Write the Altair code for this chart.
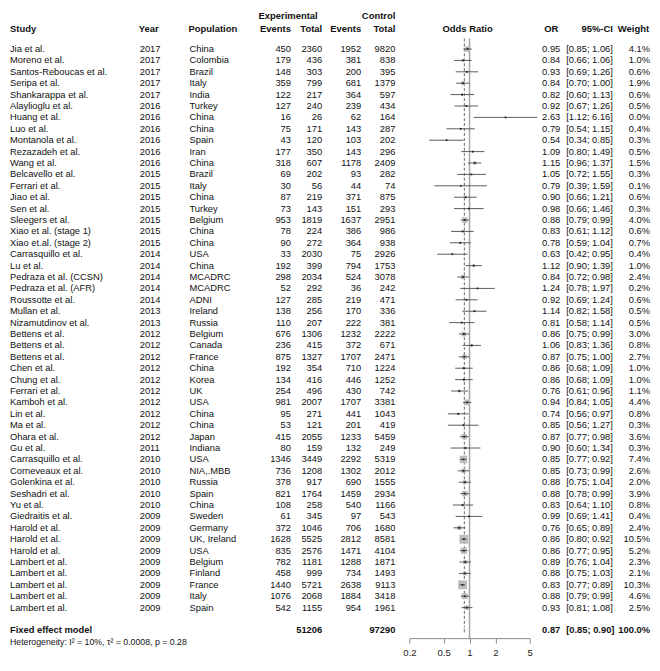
import altair as alt
import pandas as pd

# ---------------- data ----------------
studies = ["Jia et al.", "Moreno et al.", "Santos-Reboucas et al.", "Seripa et al.", "Shankarappa et al.",
           "Alaylioglu et al.", "Huang et al.", "Luo et al.", "Montanola et al.", "Rezazadeh et al.",
           "Wang et al.", "Belcavello et al.", "Ferrari et al.", "Jiao et al.", "Sen et al.",
           "Sleegers et al.", "Xiao et al. (stage 1)", "Xiao et.al. (stage 2)", "Carrasquillo et al.", "Lu et al.",
           "Pedraza et al. (CCSN)", "Pedraza et al. (AFR)", "Roussotte et al.", "Mullan et al.", "Nizamutdinov et al.",
           "Bettens et al.", "Bettens et al.", "Bettens et al.", "Chen et al.", "Chung et al.",
           "Ferrari et al.", "Kamboh et al.", "Lin et al.", "Ma et al.", "Ohara et al.",
           "Gu et al.", "Carrasquillo et al.", "Corneveaux et al.", "Golenkina et al.", "Seshadri et al.",
           "Yu et al.", "Giedraitis et al.", "Harold et al.", "Harold et al.", "Harold et al.",
           "Lambert et al.", "Lambert et al.", "Lambert et al.", "Lambert et al.", "Lambert et al."]
years = [2017, 2017, 2017, 2017, 2017, 2016, 2016, 2016, 2016, 2016,
         2016, 2015, 2015, 2015, 2015, 2015, 2015, 2015, 2014, 2014,
         2014, 2014, 2014, 2013, 2013, 2012, 2012, 2012, 2012, 2012,
         2012, 2012, 2012, 2012, 2012, 2011, 2010, 2010, 2010, 2010,
         2010, 2009, 2009, 2009, 2009, 2009, 2009, 2009, 2009, 2009]
populations = ["China", "Colombia", "Brazil", "Italy", "India", "Turkey", "China", "China", "Spain", "Iran",
               "China", "Brazil", "Italy", "China", "Turkey", "Belgium", "China", "China", "USA", "China",
               "MCADRC", "MCADRC", "ADNI", "Ireland", "Russia", "Belgium", "Canada", "France", "China", "Korea",
               "UK", "USA", "China", "China", "Japan", "Indiana", "USA", "NIA,.MBB", "Russia", "Spain",
               "China", "Sweden", "Germany", "UK, Ireland", "USA", "Belgium", "Finland", "France", "Italy", "Spain"]
exp_events = [450, 179, 148, 359, 122, 127, 16, 75, 43, 177,
              318, 69, 30, 87, 73, 953, 78, 90, 33, 192,
              298, 52, 127, 138, 110, 676, 236, 875, 192, 134,
              254, 981, 95, 53, 415, 80, 1346, 736, 378, 821,
              108, 61, 372, 1628, 835, 782, 458, 1440, 1076, 542]
exp_total = [2360, 436, 303, 799, 217, 240, 26, 171, 120, 350,
             607, 202, 56, 219, 143, 1819, 224, 272, 2030, 399,
             2034, 292, 285, 256, 207, 1306, 415, 1327, 354, 416,
             496, 2007, 271, 121, 2055, 159, 3449, 1208, 917, 1764,
             258, 345, 1046, 5525, 2576, 1181, 999, 5721, 2068, 1155]
ctrl_events = [1952, 381, 200, 681, 364, 239, 62, 143, 103, 143,
               1178, 93, 44, 371, 151, 1637, 386, 364, 75, 794,
               524, 36, 219, 170, 222, 1232, 372, 1707, 710, 446,
               430, 1707, 441, 201, 1233, 132, 2292, 1302, 690, 1459,
               540, 97, 706, 2812, 1471, 1288, 734, 2638, 1884, 954]
ctrl_total = [9820, 838, 395, 1379, 597, 434, 164, 287, 202, 296,
              2409, 282, 74, 875, 293, 2951, 986, 938, 2926, 1753,
              3078, 242, 471, 336, 381, 2222, 671, 2471, 1224, 1252,
              742, 3381, 1043, 419, 5459, 249, 5319, 2012, 1555, 2934,
              1166, 543, 1680, 8581, 4104, 1871, 1493, 9113, 3418, 1961]
or_est = [0.95, 0.84, 0.93, 0.84, 0.82, 0.92, 2.63, 0.79, 0.54, 1.09,
          1.15, 1.05, 0.79, 0.90, 0.98, 0.88, 0.83, 0.78, 0.63, 1.12,
          0.84, 1.24, 0.92, 1.14, 0.81, 0.86, 1.06, 0.87, 0.86, 0.86,
          0.76, 0.94, 0.74, 0.85, 0.87, 0.90, 0.85, 0.85, 0.88, 0.88,
          0.83, 0.99, 0.76, 0.86, 0.86, 0.89, 0.88, 0.83, 0.88, 0.93]
ci_low = [0.85, 0.66, 0.69, 0.70, 0.60, 0.67, 1.12, 0.54, 0.34, 0.80,
          0.96, 0.72, 0.39, 0.66, 0.66, 0.79, 0.61, 0.59, 0.42, 0.90,
          0.72, 0.78, 0.69, 0.82, 0.58, 0.75, 0.83, 0.75, 0.68, 0.68,
          0.61, 0.84, 0.56, 0.56, 0.77, 0.60, 0.77, 0.73, 0.75, 0.78,
          0.64, 0.69, 0.65, 0.80, 0.77, 0.76, 0.75, 0.77, 0.79, 0.81]
ci_high = [1.06, 1.06, 1.26, 1.00, 1.13, 1.26, 6.16, 1.15, 0.85, 1.49,
           1.37, 1.55, 1.59, 1.21, 1.46, 0.99, 1.12, 1.04, 0.95, 1.39,
           0.98, 1.97, 1.24, 1.58, 1.14, 0.99, 1.36, 1.00, 1.09, 1.09,
           0.96, 1.05, 0.97, 1.27, 0.98, 1.34, 0.92, 0.99, 1.04, 0.99,
           1.10, 1.41, 0.89, 0.92, 0.95, 1.04, 1.03, 0.89, 0.99, 1.08]
weights = [4.1, 1.0, 0.6, 1.9, 0.6, 0.5, 0.0, 0.4, 0.3, 0.5,
           1.5, 0.3, 0.1, 0.6, 0.3, 4.0, 0.6, 0.7, 0.4, 1.0,
           2.4, 0.2, 0.6, 0.5, 0.5, 3.0, 0.8, 2.7, 1.0, 1.0,
           1.1, 4.4, 0.8, 0.3, 3.6, 0.3, 7.4, 2.6, 2.0, 3.9,
           0.8, 0.4, 2.4, 10.5, 5.2, 2.3, 2.1, 10.3, 4.6, 2.5]

pooled_label = "Fixed effect model"
pooled_exp_total = 51206
pooled_ctrl_total = 97290
pooled_or = 0.87
pooled_low = 0.85
pooled_high = 0.90
pooled_weight = 100.0
heterogeneity = "Heterogeneity: I\u00b2 = 10%, \u03c4\u00b2 = 0.0008, p = 0.28"
axis_ticks = [0.2, 0.5, 1, 2, 5]

# ---------------- layout ----------------
SX = 0.98
SY = 0.97
def X(v):
    return round(v * SX, 2)
def Y(v):
    return round(v * SY, 2)

ROW0, ROWH = 41.0, 11.8
W = X(660)
H = Y(651)
FONT = "Liberation Sans"
FS = 9.4
FSH = 9.5
TXT = "#111111"

n = len(studies)
df = pd.DataFrame({
    "study": studies, "year": [str(v) for v in years], "pop": populations,
    "ee": exp_events, "et": exp_total, "ce": ctrl_events, "ct": ctrl_total,
    "or": or_est, "lo": ci_low, "hi": ci_high, "w": weights,
})
df["row"] = list(range(n))
df["or_txt"] = [f"{v:.2f}" for v in or_est]
df["ci_txt"] = [f"[{a:.2f}; {b:.2f}]" for a, b in zip(ci_low, ci_high)]
df["w_txt"] = [f"{v:.1f}%" for v in weights]

prow = n + 1
pooled_df = pd.DataFrame({
    "row": [prow], "label": [pooled_label], "et": [pooled_exp_total], "ct": [pooled_ctrl_total],
    "or_txt": [f"{pooled_or:.2f}"], "ci_txt": [f"[{pooled_low:.2f}; {pooled_high:.2f}]"],
    "w_txt": [f"{pooled_weight:.1f}%"],
})
diamond_df = pd.DataFrame({
    "x": [pooled_low, pooled_or, pooled_high],
    "y": [prow, prow - 0.22, prow],
    "y2": [prow, prow + 0.22, prow],
})
het_df = pd.DataFrame({"row": [prow + 1], "label": [heterogeneity]})
null_df = pd.DataFrame({"x": [1.0]})
pooled_line_df = pd.DataFrame({"x": [pooled_or]})

x_scale = alt.Scale(type="log", domain=[0.2, 5],
                    range=[X(473 - 88 * 0.69897), X(473 + 88 * 0.69897)])
y_scale = alt.Scale(domain=[0, 1], range=[Y(ROW0), Y(ROW0 + ROWH)], nice=False, zero=False)
AX = alt.Axis(values=axis_ticks, format="~g", title=None, grid=False, tickSize=5,
              domainColor="#8a8a8a", tickColor="#8a8a8a", labelColor="#222222",
              labelFont=FONT, labelFontSize=9.6, labelPadding=4, labelFlush=False,
              domainWidth=1, tickWidth=1)

def xf(field):
    return alt.X(f"{field}:Q", scale=x_scale, axis=AX)

def yf(field="row"):
    return alt.Y(f"{field}:Q", scale=y_scale, axis=None)

layers = []

# null line at OR = 1
layers.append(alt.Chart(null_df).mark_rule(color="#a6a6a6", strokeWidth=1.5).encode(
    x=xf("x"), y=alt.value(Y(30)), y2=alt.value(H)))
# pooled estimate dashed line
layers.append(alt.Chart(pooled_line_df).mark_rule(color="#555555", strokeWidth=0.9, strokeDash=[3, 2]).encode(
    x=xf("x"), y=alt.value(Y(30)), y2=alt.value(Y(ROW0 + prow * ROWH - 3))))
# squares (area proportional to weight)
layers.append(alt.Chart(df).mark_square(color="#bdbdbd", opacity=1).encode(
    x=xf("or"), y=yf(),
    size=alt.Size("w:Q", scale=alt.Scale(domain=[0, 10.5], range=[0, 80]), legend=None)))
# CI lines
layers.append(alt.Chart(df).mark_rule(color="#4a4a4a", strokeWidth=0.9).encode(
    x=xf("lo"), x2="hi:Q", y=yf()))
# point estimates
layers.append(alt.Chart(df).mark_square(color="#222222", size=3, opacity=1).encode(
    x=xf("or"), y=yf()))
# pooled diamond
layers.append(alt.Chart(diamond_df).mark_area(color="#9a9a9a", orient="vertical", opacity=1).encode(
    x=xf("x"), y=yf("y"), y2="y2:Q"))

def col_text(data, field, x, align, bold=False, size=FS):
    return alt.Chart(data).mark_text(
        align=align, baseline="middle", font=FONT, fontSize=size, color=TXT,
        fontWeight="bold" if bold else "normal").encode(
        x=alt.value(X(x)), y=yf(), text=f"{field}:N")

layers += [
    col_text(df, "study", 2, "left"),
    col_text(df, "year", 135, "left"),
    col_text(df, "pop", 186, "left"),
    col_text(df, "ee", 290, "right"),
    col_text(df, "et", 322, "right"),
    col_text(df, "ce", 362, "right"),
    col_text(df, "ct", 397, "right"),
    col_text(df, "or_txt", 566, "right"),
    col_text(df, "ci_txt", 572, "left"),
    col_text(df, "w_txt", 658, "right"),
    col_text(pooled_df, "label", 2, "left", True),
    col_text(pooled_df, "et", 322, "right", True),
    col_text(pooled_df, "ct", 397, "right", True),
    col_text(pooled_df, "or_txt", 566, "right", True),
    col_text(pooled_df, "ci_txt", 572, "left", True),
    col_text(pooled_df, "w_txt", 658, "right", True),
    col_text(het_df, "label", 2, "left", False, 8.8),
]

# column headers
headers = [
    ("Experimental", 287, "center", 6.5), ("Control", 397, "right", 6.5),
    ("Study", 2, "left", 20), ("Year", 134, "left", 20), ("Population", 185, "left", 20),
    ("Events", 290, "right", 20), ("Total", 322, "right", 20),
    ("Events", 362, "right", 20), ("Total", 397, "right", 20),
    ("Odds Ratio", 471, "center", 20), ("OR", 564, "right", 20),
    ("95%-CI", 620, "right", 20), ("Weight", 657, "right", 20),
]
one = pd.DataFrame({"k": [0]})
for label, hx, align, hy in headers:
    layers.append(alt.Chart(one).mark_text(
        align=align, baseline="middle", font=FONT, fontSize=FSH, fontWeight="bold", color=TXT).encode(
        x=alt.value(X(hx)), y=alt.value(Y(hy)), text=alt.value(label)))

chart = alt.layer(*layers).properties(
    width=W, height=H,
    autosize=alt.AutoSizeParams(type="none"),
    padding={"left": 0, "top": 0, "right": 0, "bottom": 18},
    background="white",
).configure_view(stroke=None)

chart.save("out.html", embed_options={"renderer": "svg", "actions": False})
